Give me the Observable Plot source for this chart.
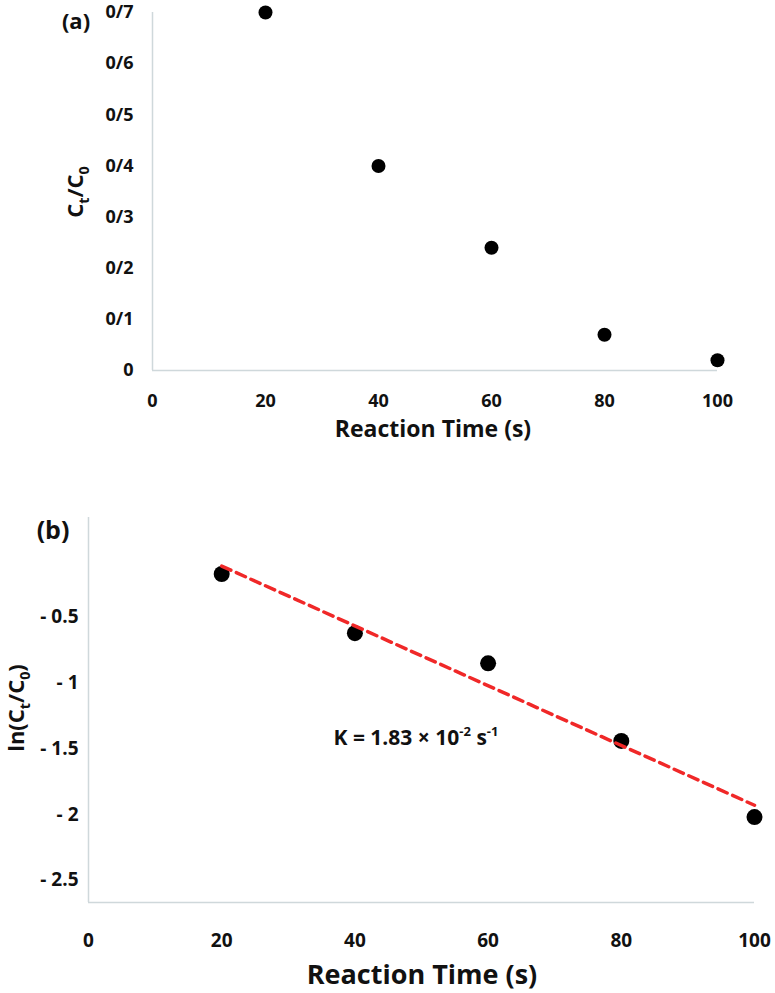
<!DOCTYPE html>
<html><head><meta charset="utf-8">
<script src="https://cdn.jsdelivr.net/npm/d3@7"></script>
<script src="https://cdn.jsdelivr.net/npm/@observablehq/plot@0.6"></script>
<style>
body{margin:0;background:#fff;}
svg{display:block;}
#wrap{width:775px;}
</style>
</head><body><div id="wrap"></div>
<script>
// ---- data ----
const time = [20, 40, 60, 80, 100];
const ratio = [0.70, 0.40, 0.24, 0.07, 0.02];          // Ct/C0, panel (a)
const lnRatio = [-0.17, -0.62, -0.85, -1.44, -2.02];    // ln(Ct/C0), panel (b)
const fitTime = [20, 100];
const fitLn = [-0.11, -1.93];                            // linear fit, panel (b)
const xTicks = [0, 20, 40, 60, 80, 100];
const yTicksA = [0, 0.1, 0.2, 0.3, 0.4, 0.5, 0.6, 0.7];
const yTickLabelsA = ["0", "0/1", "0/2", "0/3", "0/4", "0/5", "0/6", "0/7"];
const yTicksB = [-0.5, -1, -1.5, -2, -2.5];
const yTickLabelsB = ["- 0.5", "- 1", "- 1.5", "- 2", "- 2.5"];
const yDomainB = [-2.67, 0.26];

const axisGray = "#cfd8db";
const ink = "#111";
const font = "'Open Sans', 'Noto Sans', sans-serif";

const ptsA = time.map((t, i) => ({t, v: ratio[i]}));
const ptsB = time.map((t, i) => ({t, v: lnRatio[i]}));
const fit = fitTime.map((t, i) => ({t, v: fitLn[i]}));
const mapA = new Map(yTicksA.map((d, i) => [d, yTickLabelsA[i]]));
const mapB = new Map(yTicksB.map((d, i) => [d, yTickLabelsB[i]]));

const wrap = document.getElementById("wrap");

// ---- panel (a) ----
const chartA = Plot.plot({
  width: 775, height: 450,
  marginLeft: 152, marginRight: 58, marginTop: 12, marginBottom: 80,
  style: {fontFamily: font, fontWeight: "bold", fontSize: "18px", color: ink, background: "#fff", overflow: "visible"},
  x: {domain: [0, 100], ticks: xTicks, tickSize: 0, tickPadding: 24, label: null, tickFormat: d => String(d)},
  y: {domain: [0, 0.7], ticks: yTicksA, tickSize: 0, tickPadding: 19, label: null, tickFormat: d => mapA.get(d)},
  marks: [
    Plot.ruleX([0], {stroke: axisGray, strokeWidth: 1.5}),
    Plot.ruleY([0], {stroke: axisGray, strokeWidth: 1.5}),
    Plot.dot(ptsA, {x: "t", y: "v", r: 7, fill: "#000", stroke: "none"})
  ]
});
wrap.appendChild(chartA);

// ---- panel (b) ----
const chartB = Plot.plot({
  width: 775, height: 543,
  marginLeft: 88, marginRight: 21, marginTop: 67, marginBottom: 91,
  style: {fontFamily: font, fontWeight: "bold", fontSize: "19px", color: ink, background: "#fff", overflow: "visible"},
  x: {domain: [0, 100], ticks: xTicks, tickSize: 0, tickPadding: 31, label: null, tickFormat: d => String(d)},
  y: {domain: yDomainB, ticks: yTicksB, tickSize: 0, tickPadding: 10, label: null, tickFormat: d => mapB.get(d)},
  marks: [
    Plot.ruleX([0], {stroke: axisGray, strokeWidth: 1.5}),
    Plot.ruleY([yDomainB[0]], {stroke: axisGray, strokeWidth: 1.5}),
    Plot.dot(ptsB, {x: "t", y: "v", r: 8, fill: "#000", stroke: "none"}),
    Plot.line(fit, {x: "t", y: "v", stroke: "#f02828", strokeWidth: 3.5, strokeDasharray: "10,6"})
  ]
});
wrap.appendChild(chartB);

// ---- titles and annotations ----
function addText(svg, x, y, size, parts, opts = {}) {
  const t = d3.select(svg).append("text")
    .attr("font-family", font).attr("font-weight", "bold")
    .attr("font-size", size).attr("fill", ink)
    .attr("text-anchor", "middle")
    .attr("transform", `translate(${x},${y})` + (opts.rotate ? ` rotate(${opts.rotate})` : ""));
  if (opts.central) t.attr("dominant-baseline", "central");
  parts.forEach(p => {
    const s = t.append("tspan").text(p.text);
    if (p.sub) s.attr("baseline-shift", "sub").attr("font-size", size * 0.65);
    if (p.sup) s.attr("baseline-shift", "super").attr("font-size", size * 0.62);
  });
  return t;
}
addText(chartA, 76, 20, 22, [{text: "(a)"}], {central: true});
addText(chartA, 433, 437, 23, [{text: "Reaction Time (s)"}]);
addText(chartA, 74, 192, 22, [{text: "C"}, {text: "t", sub: true}, {text: "/C"}, {text: "0", sub: true}], {rotate: -90, central: true});

addText(chartB, 53, 79, 25, [{text: "(b)"}], {central: true});
addText(chartB, 422, 534, 27, [{text: "Reaction Time (s)"}]);
addText(chartB, 15, 258, 22, [{text: "ln(C"}, {text: "t", sub: true}, {text: "/C"}, {text: "0", sub: true}, {text: ")"}], {rotate: -90, central: true});
addText(chartB, 416, 295, 21, [{text: "K = 1.83 × 10"}, {text: "-2", sup: true}, {text: " s"}, {text: "-1", sup: true}]);
</script>
</body></html>
